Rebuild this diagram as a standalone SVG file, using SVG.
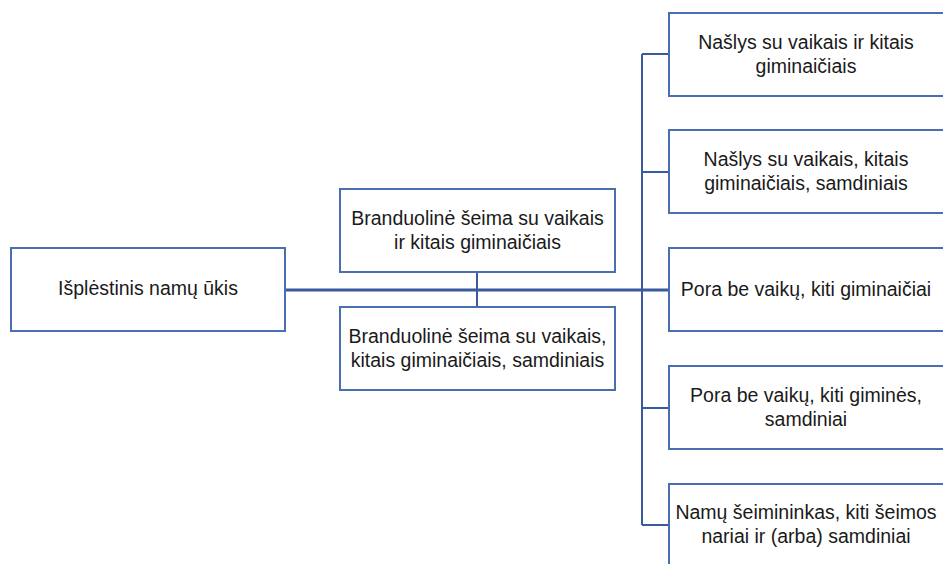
<svg xmlns="http://www.w3.org/2000/svg" width="943" height="564" viewBox="0 0 943 564">
<style>
.box{fill:#fff;stroke:#4A6FB0;stroke-width:2}
.t{font-family:"Liberation Sans",Arial,sans-serif;font-size:19.5px;fill:#1a1a1a;text-anchor:middle}
.c{fill:none;stroke:#3A5A9E;stroke-width:2}
.m{fill:none;stroke:#3A5A9E;stroke-width:3}
</style>
<rect width="943" height="564" fill="#fff"/>
<g id="connectors">
<path class="m" d="M285 290H669"/>
<path class="c" d="M477 272V307"/>
<path class="c" d="M642 54V525M642 54H669M642 172H669M642 408H669M642 525H669"/>
</g>
<g id="n0"><rect class="box" x="11" y="248" width="274" height="83"/><text class="t" x="148" y="295">Išplėstinis namų ūkis</text></g>
<g id="n1"><rect class="box" x="340" y="189" width="275" height="83"/><text class="t" x="477.5" y="225">Branduolinė šeima su vaikais</text><text class="t" x="477.5" y="249">ir kitais giminaičiais</text></g>
<g id="n2"><rect class="box" x="340" y="307" width="275" height="83"/><text class="t" x="477.5" y="343">Branduolinė šeima su vaikais,</text><text class="t" x="477.5" y="367">kitais giminaičiais, samdiniais</text></g>
<g id="r1"><rect class="box" x="669" y="13" width="276" height="83"/><text class="t" x="806" y="49">Našlys su vaikais ir kitais</text><text class="t" x="806" y="73">giminaičiais</text></g>
<g id="r2"><rect class="box" x="669" y="130" width="276" height="83"/><text class="t" x="806" y="166">Našlys su vaikais, kitais</text><text class="t" x="806" y="190">giminaičiais, samdiniais</text></g>
<g id="r3"><rect class="box" x="669" y="248" width="276" height="83"/><text class="t" x="806" y="296">Pora be vaikų, kiti giminaičiai</text></g>
<g id="r4"><rect class="box" x="669" y="366" width="276" height="83"/><text class="t" x="806" y="402">Pora be vaikų, kiti giminės,</text><text class="t" x="806" y="426">samdiniai</text></g>
<g id="r5"><rect class="box" x="669" y="484" width="276" height="83"/><text class="t" x="806" y="519">Namų šeimininkas, kiti šeimos</text><text class="t" x="806" y="543">nariai ir (arba) samdiniai</text></g>
</svg>
